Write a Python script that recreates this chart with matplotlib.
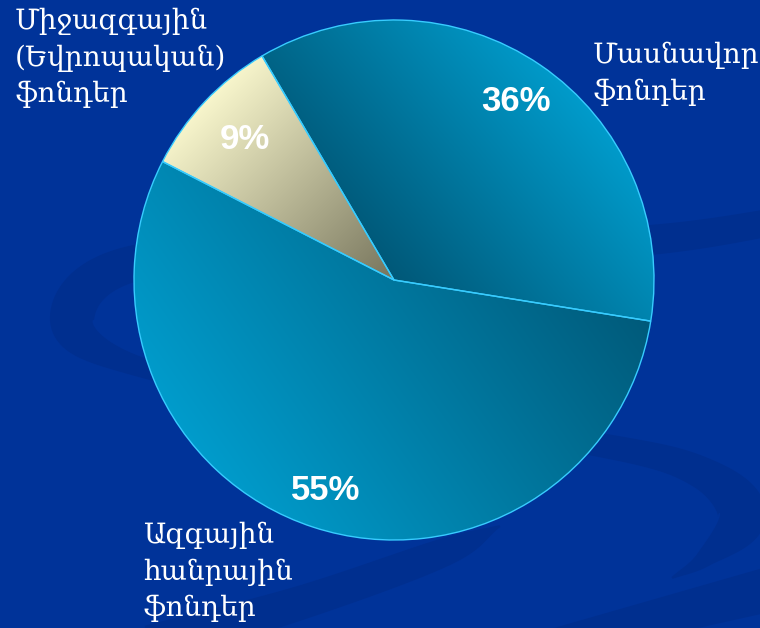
import numpy as np
import matplotlib
matplotlib.use("Agg")
import matplotlib.pyplot as plt
from matplotlib.patches import Polygon

# ---- data ----
categories = ["Մասնավոր\nֆոնդեր",
              "Ազգային\nհանրային\nֆոնդեր",
              "Միջազգային\n(Եվրոպական)\nֆոնդեր"]
values = [36, 55, 9]
pct_labels = ["36%", "55%", "9%"]

# ---- style ----
W, H = 760, 628
BG = "#003399"
SWIRL = "#002f8f"
light_cols = ["#009ccc", "#009ccc", "#f8f6cc"]
dark_cols = ["#005878", "#005a7a", "#76745c"]
grad_angles = [40, 215, 135]      # direction dark -> light (degrees)
pct_dist = [0.83, 0.85, 0.79]
EDGE = "#38ccff"

fig = plt.figure(figsize=(W / 100, H / 100), dpi=100)
fig.patch.set_facecolor(BG)
ax = fig.add_axes([0, 0, 1, 1])
ax.set_facecolor(BG)


def Y(y):
    return H - y


def catmull(points, n=24):
    P = np.asarray(points, dtype=float)
    P = np.vstack([2 * P[0] - P[1], P, 2 * P[-1] - P[-2]])
    out = []
    for i in range(1, len(P) - 2):
        p0, p1, p2, p3 = P[i - 1], P[i], P[i + 1], P[i + 2]
        for t in np.linspace(0, 1, n, endpoint=False):
            t2, t3 = t * t, t * t * t
            out.append(0.5 * ((2 * p1) + (-p0 + p2) * t +
                              (2 * p0 - 5 * p1 + 4 * p2 - p3) * t2 +
                              (-p0 + 3 * p1 - 3 * p2 + p3) * t3))
    out.append(P[-2])
    return np.array(out)


def band(points, color):
    C = catmull(points)
    xy = np.column_stack([C[:, 0], Y(C[:, 1])])
    hw = np.clip(C[:, 2], 0, None)
    d = np.gradient(xy, axis=0)
    d /= np.linalg.norm(d, axis=1)[:, None] + 1e-9
    nrm = np.column_stack([-d[:, 1], d[:, 0]])
    left = xy + nrm * hw[:, None]
    right = xy - nrm * hw[:, None]
    poly = np.vstack([left, right[::-1]])
    ax.add_patch(Polygon(poly, closed=True, facecolor=color,
                         edgecolor="none", zorder=0))


# decorative background swirls
band([(820, 214, 13), (650, 240, 15), (400, 252, 17), (140, 262, 18),
      (72, 320, 22), (140, 367, 10), (350, 408, 12), (600, 445, 12),
      (700, 472, 16), (742, 515, 24), (705, 558, 9), (672, 578, 1)], SWIRL)
band([(500, 526, 1), (445, 552, 14), (300, 603, 17), (150, 645, 20)], SWIRL)
ax.add_patch(Polygon([(540, Y(632)), (770, Y(566)), (770, Y(612)),
                      (680, Y(632))], closed=True, facecolor=SWIRL,
                     edgecolor="none", zorder=0))

# ---- pie ----
cx, cy, R = 394, 280, 260
wedges, _ = ax.pie(values, center=(cx, Y(cy)), radius=R, startangle=120.5,
                   counterclock=False,
                   wedgeprops=dict(facecolor="none", edgecolor=EDGE,
                                   linewidth=1.0, zorder=3))

xs = np.linspace(cx - R, cx + R, 400)
ys = np.linspace(Y(cy) - R, Y(cy) + R, 400)
XX, YY = np.meshgrid(xs, ys)
for w, lc, dc, ang in zip(wedges, light_cols, dark_cols, grad_angles):
    a = np.deg2rad(ang)
    proj = (XX - cx) * np.cos(a) + (YY - Y(cy)) * np.sin(a)
    verts = w.get_path().vertices
    vp = (verts[:, 0] - cx) * np.cos(a) + (verts[:, 1] - Y(cy)) * np.sin(a)
    t = np.clip((proj - vp.min()) / (vp.max() - vp.min()), 0, 1)
    c0 = np.array(matplotlib.colors.to_rgb(dc))
    c1 = np.array(matplotlib.colors.to_rgb(lc))
    img = c0[None, None, :] * (1 - t[..., None]) + c1[None, None, :] * t[..., None]
    im = ax.imshow(img, extent=(xs[0], xs[-1], ys[0], ys[-1]), origin="lower",
                   zorder=2, interpolation="bilinear")
    im.set_clip_path(w)

# percentage labels
for w, lab, d in zip(wedges, pct_labels, pct_dist):
    mid = np.deg2rad((w.theta1 + w.theta2) / 2)
    ax.text(cx + d * R * np.cos(mid), Y(cy) + d * R * np.sin(mid), lab,
            ha="center", va="center", color="white", fontsize=25,
            fontweight="bold", family=["Liberation Sans", "DejaVu Sans"],
            zorder=5)

# category labels
cat_pos = [(593, 42), (143, 522), (15, 8)]
for txt, (x, y) in zip(categories, cat_pos):
    ax.text(x, Y(y), txt, ha="left", va="top", color="white", fontsize=20,
            family=["DejaVu Serif Condensed", "DejaVu Serif"],
            linespacing=1.42, zorder=5)

ax.set_xlim(0, W)
ax.set_ylim(0, H)
ax.set_aspect("equal")
ax.axis("off")
fig.savefig("out.png", dpi=100, facecolor=BG)
